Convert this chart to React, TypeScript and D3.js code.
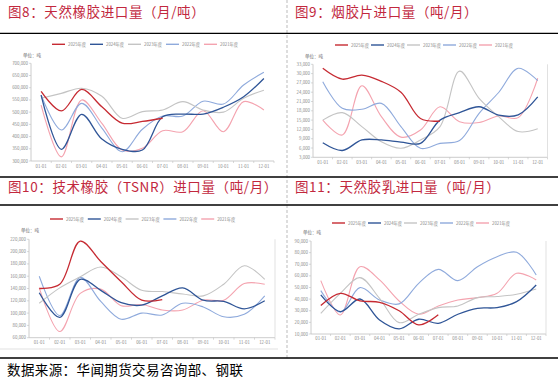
import React from 'react';
import * as d3 from 'd3';

const months = ['01-01','02-01','03-01','04-01','05-01','06-01','07-01','08-01','09-01','10-01','11-01','12-01'];
const seriesNames = ['2025年度','2024年度','2023年度','2022年度','2021年度'];
const seriesColors = ['#C62A32','#2F5597','#C4C4C4','#8FAADC','#F4A3AF'];

// 图8 天然橡胶进口量
const p1_2025 = [585000, 505000, 593000, 522000, 455000, 462000, 475000];
const p1_2024 = [570000, 348000, 491000, 390000, 348000, 345000, 481000, 492000, 492000, 520000, 563000, 638000];
const p1_2023 = [557000, 577000, 598000, 565000, 475000, 502000, 509000, 543000, 509000, 500000, 557000, 590000];
const p1_2022 = [570000, 427000, 536000, 435000, 338000, 430000, 484000, 484000, 545000, 533000, 611000, 663000];
const p1_2021 = [529000, 317000, 550000, 454000, 345000, 352000, 424000, 420000, 506000, 420000, 543000, 509000];

// 图9 烟胶片进口量
const p2_2025 = [31700, 28200, 29500, 27500, 24000, 15500, 14700];
const p2_2024 = [7700, 5200, 8600, 8600, 7900, 7500, 15000, 17400, 19300, 16600, 16700, 22500];
const p2_2023 = [15000, 17400, 12900, 8000, 5900, 8600, 12900, 30800, 22000, 16100, 11300, 12200];
const p2_2022 = [27400, 18800, 18500, 20400, 12900, 5900, 7500, 8400, 17200, 23900, 31700, 27700];
const p2_2021 = [15000, 10200, 26100, 16100, 9500, 11800, 19300, 14500, 14200, 16300, 15800, 28500];

// 图10 技术橡胶（TSNR）进口量
const p3_2025 = [140000, 147000, 217000, 184000, 151000, 121000, 122000];
const p3_2024 = [133000, 93000, 155000, 137000, 117000, 113000, 128000, 141000, 121000, 119000, 107000, 120000];
const p3_2023 = [116000, 141000, 159000, 175000, 159000, 137000, 135000, 131000, 128000, 147000, 177000, 155000];
const p3_2022 = [160000, 96000, 158000, 119000, 90000, 100000, 97000, 116000, 110000, 94000, 98000, 128000];
const p3_2021 = [141000, 70000, 132000, 139000, 112000, 114000, 105000, 105000, 121000, 121000, 148000, 147000];

// 图11 天然胶乳进口量
const p4_2025 = [34500, 45000, 38500, 37300, 30000, 17800, 26500];
const p4_2024 = [43600, 29300, 40100, 22100, 14400, 22700, 19200, 27000, 32100, 32700, 37900, 52200];
const p4_2023 = [27800, 45000, 58500, 40700, 19800, 27000, 32700, 34100, 41300, 42200, 44200, 48700];
const p4_2022 = [47300, 28700, 49900, 39300, 35900, 53600, 65600, 55900, 67900, 76500, 80300, 60800];
const p4_2021 = [55900, 26400, 67900, 56500, 38400, 27000, 34100, 39300, 41300, 45000, 62200, 56500];

const titles = ['图8：天然橡胶进口量（月/吨）','图9：烟胶片进口量（吨/月）','图10：技术橡胶（TSNR）进口量（吨/月）','图11：天然胶乳进口量（吨/月）'];
const yDomains = [[300000, 700000], [3000, 33000], [60000, 220000], [10000, 90000]];
const ySteps = [50000, 3000, 20000, 10000];
const unitLabel = '单位：吨';
const sourceText = '数据来源：华闻期货交易咨询部、钢联';

const panelData = [
  [p1_2025, p1_2024, p1_2023, p1_2022, p1_2021],
  [p2_2025, p2_2024, p2_2023, p2_2022, p2_2021],
  [p3_2025, p3_2024, p3_2023, p3_2022, p3_2021],
  [p4_2025, p4_2024, p4_2023, p4_2022, p4_2021],
];

const layout = [
  { tx: 8, ty: 17, left: 31, right: 274, top: 63.3, bottom: 161, xLabY: 167.5, lgX: 52, lgStep: 38, lgY: 44.3, uX: 23, uY: 57 },
  { tx: 295, ty: 17, left: 313, right: 547.5, top: 64.3, bottom: 157.3, xLabY: 163.5, lgX: 335, lgStep: 36, lgY: 45, uX: 305, uY: 58 },
  { tx: 8, ty: 192, left: 29, right: 275, top: 239.3, bottom: 337.7, xLabY: 344, lgX: 50, lgStep: 37.8, lgY: 219, uX: 21, uY: 232 },
  { tx: 295, ty: 192, left: 311, right: 546, top: 241, bottom: 334, xLabY: 340, lgX: 332, lgStep: 36, lgY: 223, uX: 303, uY: 234 },
];

const cjk = '"Noto Sans CJK SC", "Noto Sans", sans-serif';
const titleColor = '#C2283E';
const axisColor = '#BFBFBF';
const labelColor = '#8A8A8A';
const fmt = d3.format(',');

function Panel({ idx }: { idx: number }) {
  const L = layout[idx];
  const data = panelData[idx];
  const [y0, y1] = yDomains[idx];
  const x = d3.scaleBand<string>().domain(months).range([L.left, L.right]);
  const cx = (i: number) => (x(months[i]) as number) + x.bandwidth() / 2;
  const y = d3.scaleLinear().domain([y0, y1]).range([L.bottom, L.top]);
  const ticks = d3.range(y0, y1 + 1, ySteps[idx]);
  const line = d3.line<number>().x((_, i) => cx(i)).y(d => y(d)).curve(d3.curveCatmullRom.alpha(0.5));
  const order = [4, 3, 2, 1, 0];
  return (
    <g>
      <text x={L.tx} y={L.ty} fontFamily={cjk} fontSize={13.5} fill={titleColor} letterSpacing={0.6}>{titles[idx]}</text>
      {seriesNames.map((n, i) => (
        <g key={n}>
          <line x1={L.lgX + i * L.lgStep} x2={L.lgX + i * L.lgStep + 13} y1={L.lgY} y2={L.lgY} stroke={seriesColors[i]} strokeWidth={1.4} />
          <text x={L.lgX + i * L.lgStep + 16} y={L.lgY + 1.5} fontFamily={cjk} fontSize={4.3} fill={labelColor}>{n}</text>
        </g>
      ))}
      <text x={L.uX} y={L.uY} fontFamily={cjk} fontSize={4.5} fill="#666">{unitLabel}</text>
      <line x1={L.left} x2={L.left} y1={L.top} y2={L.bottom} stroke={axisColor} strokeWidth={0.8} />
      {ticks.map(t => (
        <g key={t}>
          <line x1={L.left - 2} x2={L.left} y1={y(t)} y2={y(t)} stroke={axisColor} strokeWidth={0.6} />
          <text x={L.left - 3} y={y(t) + 1.5} textAnchor="end" fontFamily={cjk} fontSize={4.4} fill={labelColor}>{fmt(t)}</text>
        </g>
      ))}
      <line x1={L.left} x2={L.right} y1={L.bottom} y2={L.bottom} stroke={axisColor} strokeWidth={0.8} />
      {months.map((m, i) => (
        <g key={m}>
          <line x1={(x(m) as number) + x.bandwidth()} x2={(x(m) as number) + x.bandwidth()} y1={L.bottom} y2={L.bottom + 2} stroke={axisColor} strokeWidth={0.6} />
          <text x={cx(i)} y={L.xLabY} textAnchor="middle" fontFamily={cjk} fontSize={4.3} fill={labelColor}>{m}</text>
        </g>
      ))}
      {idx !== 0 && (
        <line x1={L.right} x2={L.right} y1={L.top} y2={L.bottom} stroke="#D9D9D9" strokeWidth={0.8} />
      )}
      {order.map(si => (
        <path key={si} d={line(data[si]) || ''} fill="none" stroke={seriesColors[si]} strokeWidth={si === 0 || si === 1 ? 1.3 : 1.1} />
      ))}
    </g>
  );
}

export default function App() {
  return (
    <svg width={558} height={380} style={{ position: 'absolute', left: 0, top: 0, background: '#fff' }}>
      <rect x={0} y={0} width={558} height={380} fill="#fff" />
      <line x1={287} x2={287} y1={0} y2={358} stroke="#AAAAAA" strokeWidth={0.8} strokeDasharray="3,2" />
      <line x1={0} x2={558} y1={33.3} y2={33.3} stroke="#000" strokeWidth={1.3} />
      <line x1={0} x2={558} y1={177} y2={177} stroke="#000" strokeWidth={1.3} />
      <line x1={0} x2={558} y1={205} y2={205} stroke="#000" strokeWidth={1.3} />
      <line x1={0} x2={278} y1={349} y2={349} stroke="#D9D9D9" strokeWidth={0.8} />
      <line x1={0} x2={558} y1={358} y2={358} stroke="#000" strokeWidth={1.3} />
      {[0, 1, 2, 3].map(i => <Panel key={i} idx={i} />)}
      <text x={7} y={375} fontFamily={cjk} fontSize={13.5} fill="#000" letterSpacing={0.4}>{sourceText}</text>
    </svg>
  );
}
